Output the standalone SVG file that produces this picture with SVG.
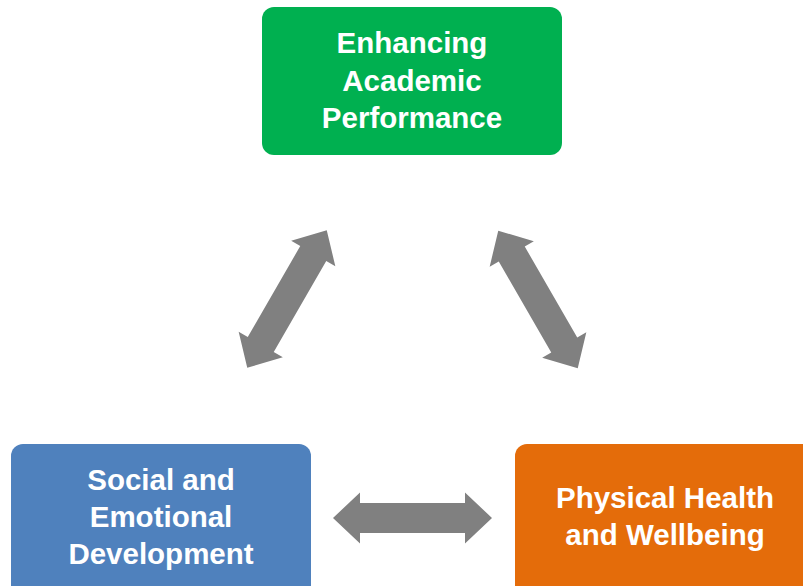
<svg xmlns="http://www.w3.org/2000/svg" width="803" height="586" viewBox="0 0 803 586">
<style>
.lbl{font-family:"Liberation Sans",Arial,sans-serif;font-weight:bold;font-size:29.5px;fill:#ffffff;text-anchor:middle}
.arrow{fill:#808080}
</style>
<defs>
<path id="dbl" d="M-79.5,0 L-52.5,-25.5 L-52.5,-15 L52.5,-15 L52.5,-25.5 L79.5,0 L52.5,25.5 L52.5,15 L-52.5,15 L-52.5,25.5 Z"/>
</defs>
<rect width="803" height="586" fill="#ffffff"/>
<g id="connectors" class="arrow">
<use href="#dbl" transform="translate(287,299) rotate(-60)"/>
<use href="#dbl" transform="translate(538,299.5) rotate(60)"/>
<use href="#dbl" transform="translate(412.5,518)"/>
</g>
<g id="academic">
<rect x="262" y="7" width="300" height="148" rx="12" fill="#00B050"/>
<text class="lbl" x="412" y="53">Enhancing</text>
<text class="lbl" x="412" y="90.5">Academic</text>
<text class="lbl" x="412" y="128">Performance</text>
</g>
<g id="social">
<rect x="11" y="444" width="300" height="160" rx="12" fill="#4F81BD"/>
<text class="lbl" x="161" y="490">Social and</text>
<text class="lbl" x="161" y="527">Emotional</text>
<text class="lbl" x="161" y="563.5">Development</text>
</g>
<g id="physical">
<rect x="515" y="444" width="300" height="160" rx="12" fill="#E46C0A"/>
<text class="lbl" x="665" y="508">Physical Health</text>
<text class="lbl" x="665" y="545">and Wellbeing</text>
</g>
</svg>
